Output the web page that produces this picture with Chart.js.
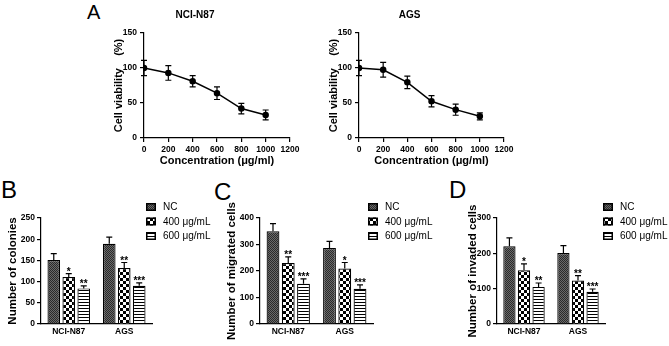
<!DOCTYPE html>
<html>
<head>
<meta charset="utf-8">
<script src="https://cdn.jsdelivr.net/npm/chart.js@4.4.0/dist/chart.umd.min.js"></script>
<style>
  body { margin: 0; background: #fff; }
  #fig { position: relative; width: 669px; height: 346px; overflow: hidden; font-family: 'Liberation Sans', Arial, sans-serif; }
  #fig canvas { position: absolute; }
  .tag { position: absolute; line-height: 1; color: #000; }
</style>
</head>
<body>
<div id="fig">
  <div class="tag" style="left:87px;top:2px;font-size:20px">A</div>
  <div class="tag" style="left:1px;top:178px;font-size:24px">B</div>
  <div class="tag" style="left:214px;top:180px;font-size:24px">C</div>
  <div class="tag" style="left:449px;top:178px;font-size:24px">D</div>
  <canvas id="viabN87" width="234" height="170" style="left:100px;top:0"></canvas>
  <canvas id="viabAGS" width="233" height="170" style="left:315px;top:0"></canvas>
  <canvas id="colonies" width="230" height="176" style="left:0;top:170px"></canvas>
  <canvas id="migrated" width="230" height="176" style="left:220px;top:170px"></canvas>
  <canvas id="invaded" width="229" height="176" style="left:440px;top:170px"></canvas>
</div>
<script>
// ---- data ----
const concentrations = [0, 200, 400, 600, 800, 1000];
const viabilityN87 = [100, 93, 81, 64, 42, 33];
const viabilityN87Err = [11, 10.5, 8, 9, 7.5, 7];
const viabilityAGS = [100, 97.5, 79.5, 52.5, 40.5, 31];
const viabilityAGSErr = [11, 10.5, 9, 8, 8, 5];
const concTicks = [0, 200, 400, 600, 800, 1000, 1200];

const cellLines = ['NCI-N87', 'AGS'];
const groupNames = ['NC', '400 μg/mL', '600 μg/mL'];

const coloniesNC = [151, 189];
const colonies400 = [111, 132];
const colonies600 = [84, 90];
const coloniesNCErr = [15, 16];
const colonies400Err = [8, 13];
const colonies600Err = [6, 7];
const coloniesStars = [[], ['*', '**'], ['**', '***']];

const migratedNC = [350, 287];
const migrated400 = [230, 209];
const migrated600 = [152, 133];
const migratedNCErr = [29, 25];
const migrated400Err = [23, 23];
const migrated600Err = [18, 15];
const migratedStars = [[], ['**', '*'], ['***', '***']];

const invadedNC = [220, 201];
const invaded400 = [152, 123];
const invaded600 = [105, 91];
const invadedNCErr = [24, 21];
const invaded400Err = [18, 14];
const invaded600Err = [11, 8];
const invadedStars = [[], ['*', '**'], ['**', '***']];

const FONT = "'Liberation Sans', Arial, sans-serif";
Chart.defaults.font.family = FONT;
Chart.defaults.color = '#000';

// ---- fill patterns (NC / 400 / 600) ----
function makePattern(kind) {
    const c = document.createElement('canvas');
    const g = c.getContext('2d');
    if (kind === 'nc') {
        c.width = 2; c.height = 2;
        g.fillStyle = '#6a6a6a'; g.fillRect(0, 0, 2, 2);
        g.fillStyle = '#2a2a2a'; g.fillRect(0, 0, 1, 1); g.fillRect(1, 1, 1, 1);
    } else if (kind === 'mid') {
        c.width = 6; c.height = 6;
        g.fillStyle = '#fff'; g.fillRect(0, 0, 6, 6);
        g.fillStyle = '#000'; g.fillRect(0, 0, 3, 3); g.fillRect(3, 3, 3, 3);
    } else {
        c.width = 3; c.height = 3;
        g.fillStyle = '#fff'; g.fillRect(0, 0, 3, 3);
        g.fillStyle = '#000'; g.fillRect(0, 0, 3, 1);
    }
    return g.createPattern(c, 'repeat');
}
const fills = [makePattern('nc'), makePattern('mid'), makePattern('high')];

// error bars (+ significance stars) drawn from the y scale
const errorBars = {
    id: 'errorBars',
    afterDatasetsDraw(chart) {
        const ctx = chart.ctx;
        const yScale = chart.scales.y;
        ctx.save();
        ctx.strokeStyle = '#000';
        ctx.fillStyle = '#000';
        ctx.lineWidth = 1.2;
        ctx.font = 'bold 10px ' + FONT;
        ctx.textAlign = 'center';
        ctx.textBaseline = 'alphabetic';
        chart.data.datasets.forEach((ds, i) => {
            if (!ds.errors) return;
            chart.getDatasetMeta(i).data.forEach((el, j) => {
                const v = yScale.getValueForPixel(el.y);
                const top = yScale.getPixelForValue(v + ds.errors[j]);
                const bottom = ds.upperOnly ? el.y : yScale.getPixelForValue(v - ds.errors[j]);
                ctx.beginPath();
                ctx.moveTo(el.x, top); ctx.lineTo(el.x, bottom);
                ctx.moveTo(el.x - 3, top); ctx.lineTo(el.x + 3, top);
                if (!ds.upperOnly) { ctx.moveTo(el.x - 3, bottom); ctx.lineTo(el.x + 3, bottom); }
                ctx.stroke();
                if (ds.stars && ds.stars[j]) ctx.fillText(ds.stars[j], el.x, top + 1);
            });
        });
        ctx.restore();
    }
};

// small legend to the right of the bar panels
const sideLegend = {
    id: 'sideLegend',
    afterDraw(chart, args, opts) {
        if (opts.x == null) return;
        const ctx = chart.ctx;
        ctx.save();
        ctx.font = '10px ' + FONT;
        ctx.textBaseline = 'middle';
        ctx.lineWidth = 1.5;
        ctx.strokeStyle = '#000';
        chart.data.datasets.forEach((ds, i) => {
            const cy = opts.y + i * opts.step;
            ctx.fillStyle = ds.backgroundColor;
            ctx.fillRect(opts.x, cy - 4, 10, 8);
            ctx.strokeRect(opts.x + 0.75, cy - 3.25, 8.5, 6.5);
            ctx.fillStyle = '#000';
            ctx.fillText(ds.label, opts.x + 17, cy + 0.5);
        });
        ctx.restore();
    }
};

const tickFont = { size: 8.5, weight: 'bold' };
const axisLine = { color: '#000', width: 1.2 };
const tickGrid = { drawOnChartArea: false, drawTicks: true, tickLength: 4, color: '#000', lineWidth: 1.2 };
const plainNumber = v => String(v);

function viabilityChart(id, title, values, errors) {
    return new Chart(document.getElementById(id), {
        type: 'line',
        data: {
            datasets: [{
                data: concentrations.map((c, i) => ({ x: c, y: values[i] })),
                errors: errors,
                borderColor: '#000',
                borderWidth: 1.5,
                pointRadius: 2.5,
                pointBackgroundColor: '#000',
                pointBorderColor: '#000',
                tension: 0
            }]
        },
        options: {
            responsive: false,
            animation: false,
            events: [],
            layout: { padding: { top: 0, left: 0, right: 44, bottom: 0 } },
            plugins: {
                legend: { display: false },
                tooltip: { enabled: false },
                title: { display: true, text: title, font: { size: 10, weight: 'bold' }, color: '#000', padding: { top: 9, bottom: 12 } }
            },
            scales: {
                x: {
                    type: 'linear', min: 0, max: 1200,
                    afterBuildTicks: s => { s.ticks = concTicks.map(v => ({ value: v })); },
                    afterFit: s => { s.height = 32; },
                    ticks: { font: tickFont, padding: 3, maxRotation: 0, autoSkip: false, callback: plainNumber },
                    grid: tickGrid, border: axisLine,
                    title: { display: true, text: 'Concentration (μg/ml)', font: { size: 11, weight: 'bold' }, padding: { top: 0, bottom: 2.4 } }
                },
                y: {
                    min: 0, max: 150,
                    ticks: { stepSize: 50, font: tickFont, padding: 3, callback: plainNumber },
                    afterFit: s => { s.width = 44; },
                    grid: tickGrid, border: axisLine,
                    title: { display: true, text: 'Cell viability    (%)', font: { size: 11, weight: 'bold' }, padding: { top: 12.4, bottom: 0 } }
                }
            }
        },
        plugins: [errorBars]
    });
}

function barChart(id, yTitle, series, errs, stars, yMax, yStep, box) {
    return new Chart(document.getElementById(id), {
        type: 'bar',
        data: {
            labels: cellLines,
            datasets: groupNames.map((name, k) => ({
                label: name,
                data: series[k],
                errors: errs[k],
                stars: stars[k],
                upperOnly: true,
                backgroundColor: fills[k],
                borderColor: '#000',
                borderWidth: 1.2,
                categoryPercentage: 0.81,
                barPercentage: 0.84
            }))
        },
        options: {
            responsive: false,
            animation: false,
            events: [],
            layout: { padding: { top: 48, left: 0, right: box.padRight, bottom: 0 } },
            plugins: {
                legend: { display: false },
                tooltip: { enabled: false },
                sideLegend: { x: box.legendX, y: 37, step: 14.5 }
            },
            scales: {
                x: {
                    afterFit: s => { s.height = 22; },
                    ticks: { font: tickFont, padding: 3, maxRotation: 0 },
                    grid: { display: false, drawTicks: false },
                    border: axisLine
                },
                y: {
                    min: 0, max: yMax,
                    ticks: { stepSize: yStep, font: tickFont, padding: 2, callback: plainNumber },
                    afterFit: s => { s.width = box.axisWidth; },
                    grid: tickGrid, border: axisLine,
                    title: { display: true, text: yTitle, font: { size: 11.5, weight: 'bold' }, padding: { top: box.titlePad, bottom: 0 } }
                }
            }
        },
        plugins: [errorBars, sideLegend]
    });
}

viabilityChart('viabN87', 'NCI-N87', viabilityN87, viabilityN87Err);
viabilityChart('viabAGS', 'AGS', viabilityAGS, viabilityAGSErr);

barChart('colonies', 'Number of colonies',
    [coloniesNC, colonies400, colonies600], [coloniesNCErr, colonies400Err, colonies600Err],
    coloniesStars, 250, 50, { axisWidth: 41, padRight: 78, titlePad: 6, legendX: 146 });
barChart('migrated', 'Number of migrated cells',
    [migratedNC, migrated400, migrated600], [migratedNCErr, migrated400Err, migrated600Err],
    migratedStars, 400, 100, { axisWidth: 40, padRight: 77, titlePad: 5, legendX: 148 });
barChart('invaded', 'Number of invaded cells',
    [invadedNC, invaded400, invaded600], [invadedNCErr, invaded400Err, invaded600Err],
    invadedStars, 300, 100, { axisWidth: 57, padRight: 64, titlePad: 26, legendX: 163 });
</script>
</body>
</html>
